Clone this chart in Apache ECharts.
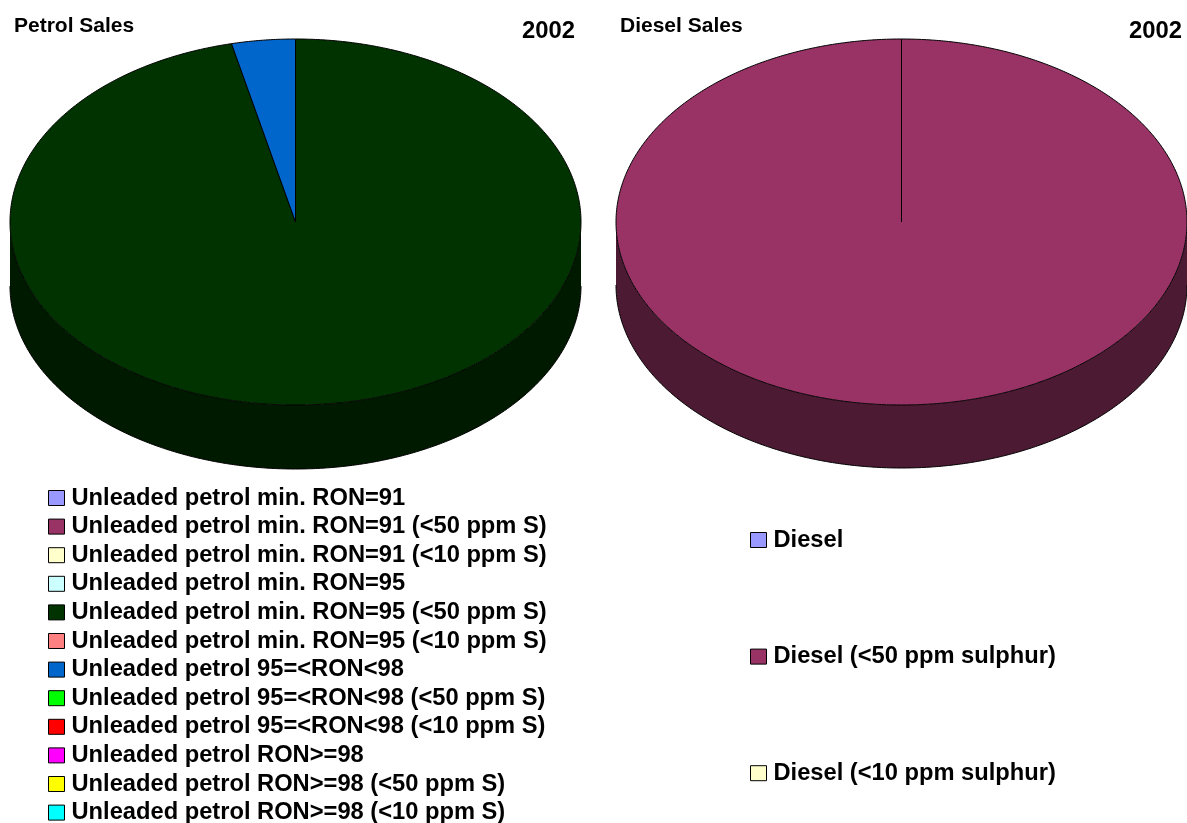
<!DOCTYPE html>
<html>
<head>
<meta charset="utf-8">
<title>Petrol and Diesel Sales 2002</title>
<script src="https://cdn.jsdelivr.net/npm/echarts@6/dist/echarts.min.js"></script>
<style>
  html, body { margin: 0; padding: 0; background: #fff; }
  #chart { width: 1187px; height: 823px; }
</style>
</head>
<body>
<div id="chart"></div>
<script>
// ---- data -------------------------------------------------------------
const yearLabel = '2002';

const petrolCategories = [
  'Unleaded petrol min. RON=91',
  'Unleaded petrol min. RON=91 (<50 ppm S)',
  'Unleaded petrol min. RON=91 (<10 ppm S)',
  'Unleaded petrol min. RON=95',
  'Unleaded petrol min. RON=95 (<50 ppm S)',
  'Unleaded petrol min. RON=95 (<10 ppm S)',
  'Unleaded petrol 95=<RON<98',
  'Unleaded petrol 95=<RON<98 (<50 ppm S)',
  'Unleaded petrol 95=<RON<98 (<10 ppm S)',
  'Unleaded petrol RON>=98',
  'Unleaded petrol RON>=98 (<50 ppm S)',
  'Unleaded petrol RON>=98 (<10 ppm S)'
];
const petrolValues = [0, 0, 0, 0, 96.4, 0, 3.6, 0, 0, 0, 0, 0];
const petrolColors = [
  '#9999FF', '#993366', '#FFFFCC', '#CCFFFF', '#003300', '#FF8080',
  '#0066CC', '#00FF00', '#FF0000', '#FF00FF', '#FFFF00', '#00FFFF'
];

const dieselCategories = [
  'Diesel',
  'Diesel (<50 ppm sulphur)',
  'Diesel (<10 ppm sulphur)'
];
const dieselValues = [0, 100, 0];
const dieselColors = ['#9999FF', '#993366', '#FFFFCC'];

// ---- tilted pie geometry ---------------------------------------------
const petrolPie = { cx: 295.5, cy: 222, rx: 285.5, ry: 183, depth: 64 };
const dieselPie = { cx: 901.5, cy: 222, rx: 285.5, ry: 183, depth: 63 };

const FONT = '"Liberation Sans", Arial, sans-serif';

function darken(hex, k) {
  const n = parseInt(hex.slice(1), 16);
  const r = Math.round(((n >> 16) & 255) * k);
  const g = Math.round(((n >> 8) & 255) * k);
  const b = Math.round((n & 255) * k);
  return 'rgb(' + r + ',' + g + ',' + b + ')';
}

// angle phi is measured clockwise from 12 o'clock
function rimPoint(geo, phi, dy) {
  return [geo.cx + geo.rx * Math.sin(phi), geo.cy - geo.ry * Math.cos(phi) + (dy || 0)];
}

function arcPoints(geo, a0, a1, dy) {
  const pts = [];
  const steps = Math.max(2, Math.ceil((a1 - a0) / (Math.PI / 360)));
  for (let i = 0; i <= steps; i++) {
    pts.push(rimPoint(geo, a0 + (a1 - a0) * i / steps, dy));
  }
  return pts;
}

// One custom series per category, so every category owns a legend entry.
function buildPieSeries(categories, values, colors, geo, pieId) {
  const total = values.reduce((s, v) => s + v, 0);
  let acc = 0;
  return categories.map((name, i) => {
    const startFrac = acc / total;
    acc += values[i];
    const color = colors[i];
    return {
      type: 'custom',
      id: pieId + '-' + i,
      name: name,
      coordinateSystem: 'none',
      silent: true,
      itemStyle: { color: color },
      data: [values[i]],
      renderItem: function (params, api) {
        const v = api.value(0);
        if (!v) return { type: 'group', children: [] };
        const a0 = startFrac * Math.PI * 2;
        const a1 = a0 + (v / total) * Math.PI * 2;
        const children = [];
        // visible side wall: the part of the slice lying in the front half
        const s0 = Math.max(a0, Math.PI / 2);
        const s1 = Math.min(a1, Math.PI * 1.5);
        if (s1 > s0) {
          const upper = arcPoints(geo, s0, s1, 0);
          const lower = arcPoints(geo, s0, s1, geo.depth);
          children.push({
            type: 'polygon',
            shape: { points: upper.concat(lower.slice().reverse()) },
            style: { fill: darken(color, 0.5), stroke: null }
          });
          children.push({
            type: 'polyline',
            shape: { points: lower },
            style: { fill: null, stroke: '#000', lineWidth: 1 }
          });
        }
        // top face
        const top = [[geo.cx, geo.cy]].concat(arcPoints(geo, a0, a1, 0));
        children.push({
          type: 'polygon',
          shape: { points: top },
          style: { fill: color, stroke: '#000', lineWidth: 1, lineJoin: 'round' }
        });
        return { type: 'group', children: children };
      }
    };
  });
}

const legendText = {
  fontFamily: FONT, fontWeight: 'bold', fontSize: 23.7, color: '#000', lineHeight: 24,
  padding: [0, 0, 0, 2]
};

const titleText = { fontFamily: FONT, fontWeight: 'bold', color: '#000' };

const option = {
  backgroundColor: '#fff',
  animation: false,
  title: [
    { text: 'Petrol Sales', left: 14, top: 16, padding: 0, textStyle: Object.assign({ fontSize: 21 }, titleText) },
    { text: yearLabel, left: 522, top: 19, padding: 0, textStyle: Object.assign({ fontSize: 23.8 }, titleText) },
    { text: 'Diesel Sales', left: 620, top: 16, padding: 0, textStyle: Object.assign({ fontSize: 21 }, titleText) },
    { text: yearLabel, left: 1129, top: 19, padding: 0, textStyle: Object.assign({ fontSize: 23.8 }, titleText) }
  ],
  legend: [
    {
      data: petrolCategories,
      orient: 'vertical',
      left: 48, top: 486, height: 360, padding: 0,
      itemWidth: 16, itemHeight: 15, itemGap: 4.6,
      icon: 'rect',
      selectedMode: false,
      itemStyle: { borderColor: '#000', borderWidth: 1 },
      textStyle: legendText
    },
    {
      data: dieselCategories,
      orient: 'vertical',
      left: 750, top: 528, height: 300, padding: 0,
      itemWidth: 16, itemHeight: 15, itemGap: 92.6,
      icon: 'rect',
      selectedMode: false,
      itemStyle: { borderColor: '#000', borderWidth: 1 },
      textStyle: legendText
    }
  ],
  series: buildPieSeries(petrolCategories, petrolValues, petrolColors, petrolPie, 'petrol')
    .concat(buildPieSeries(dieselCategories, dieselValues, dieselColors, dieselPie, 'diesel'))
};

const chart = echarts.init(document.getElementById('chart'), null, { renderer: 'canvas' });
chart.setOption(option);
</script>
</body>
</html>
